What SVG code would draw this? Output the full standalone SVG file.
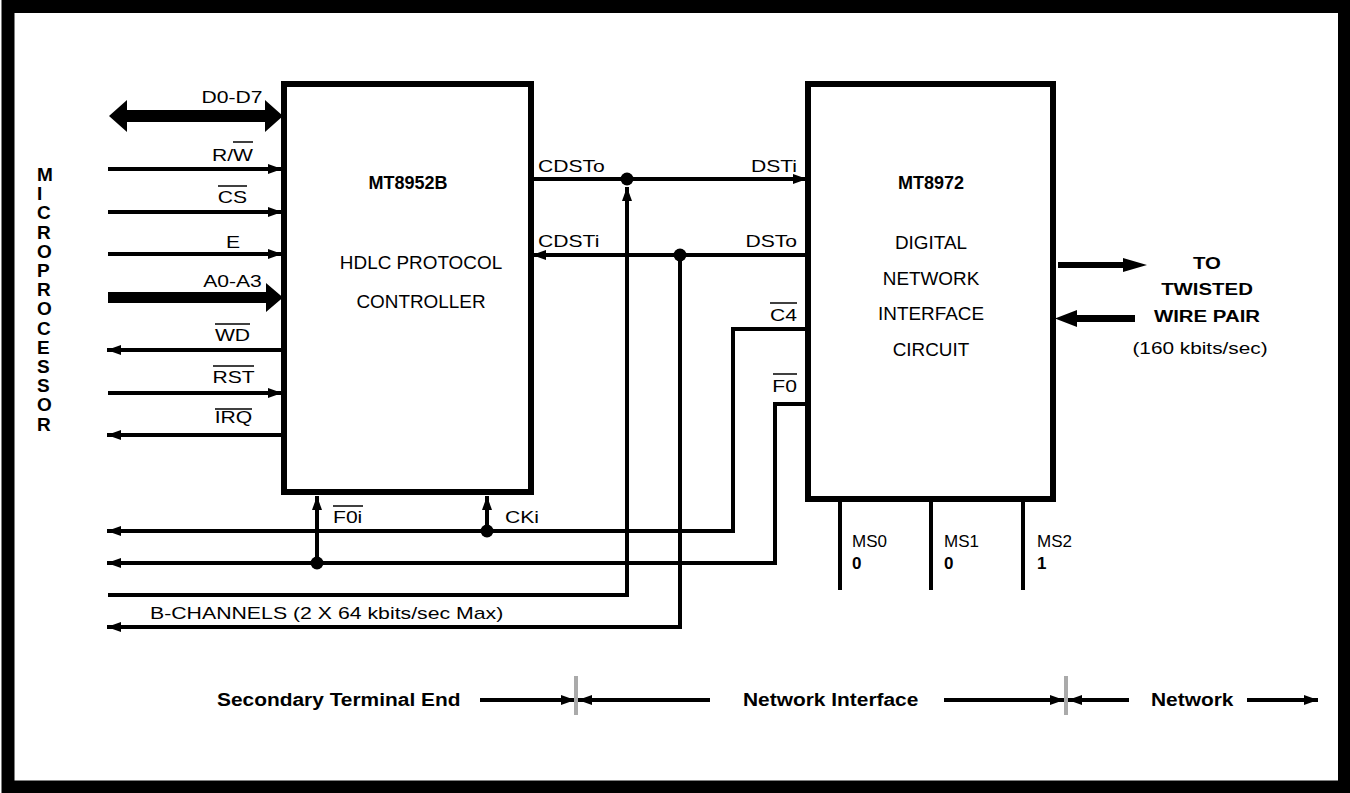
<svg xmlns="http://www.w3.org/2000/svg" width="1350" height="793" viewBox="0 0 1350 793">
<style>
.t{font-family:"Liberation Sans",Arial,Helvetica,sans-serif;font-size:16px;fill:#000}
.ms{font-family:"Liberation Sans",Arial,Helvetica,sans-serif;font-size:17px;fill:#000}
.bx{font-family:"Liberation Sans",Arial,Helvetica,sans-serif;font-size:18px;fill:#000}
.b{font-family:"Liberation Sans",Arial,Helvetica,sans-serif;font-size:17px;font-weight:bold;fill:#000}
.bt{font-family:"Liberation Sans",Arial,Helvetica,sans-serif;font-size:18px;font-weight:bold;fill:#000}
.lg{font-family:"Liberation Sans",Arial,Helvetica,sans-serif;font-size:19px;font-weight:bold;fill:#000}
.mp{font-family:"Liberation Sans",Arial,Helvetica,sans-serif;font-size:19px;font-weight:bold;fill:#000}
.m{text-anchor:middle}
.e{text-anchor:end}
.box{fill:#fff;stroke:#000;stroke-width:6}
.w{fill:none;stroke:#000;stroke-width:4}
.ov{stroke:#000;stroke-width:1.5}
.tick{stroke:#aaa;stroke-width:4}
</style>
<defs>
<marker id="ah" markerUnits="userSpaceOnUse" markerWidth="15" markerHeight="11" refX="14" refY="5" orient="auto">
<path d="M0,0 L14,5 L0,10 z" fill="#000"/>
</marker>
</defs>
<rect x="0" y="0" width="1350" height="793" fill="#fff"/>
<rect x="8" y="6.5" width="1336.5" height="780.5" fill="none" stroke="#000" stroke-width="13"/>

<g id="microprocessor">
<text class="mp" x="37" y="181">M</text>
<text class="mp" x="37" y="200.2">I</text>
<text class="mp" x="37" y="219.4">C</text>
<text class="mp" x="37" y="238.6">R</text>
<text class="mp" x="37" y="257.8">O</text>
<text class="mp" x="37" y="277">P</text>
<text class="mp" x="37" y="296.2">R</text>
<text class="mp" x="37" y="315.4">O</text>
<text class="mp" x="37" y="334.6">C</text>
<text class="mp" x="37" y="353.8">E</text>
<text class="mp" x="37" y="373">S</text>
<text class="mp" x="37" y="392.2">S</text>
<text class="mp" x="37" y="411.4">O</text>
<text class="mp" x="37" y="430.6">R</text>
</g>

<g id="mt8952b">
<rect class="box" x="284" y="84" width="247" height="408"/>
<text class="bt m" x="408" y="189">MT8952B</text>
<text class="bx m" transform="translate(421 269) scale(1.05 1)">HDLC PROTOCOL</text>
<text class="bx m" transform="translate(421 308) scale(1.05 1)">CONTROLLER</text>
</g>

<g id="mt8972">
<rect class="box" x="808" y="84" width="245" height="415"/>
<text class="bt m" x="931" y="189">MT8972</text>
<text class="bx m" transform="translate(931 249) scale(1.05 1)">DIGITAL</text>
<text class="bx m" transform="translate(931 285) scale(1.05 1)">NETWORK</text>
<text class="bx m" transform="translate(931 320) scale(1.05 1)">INTERFACE</text>
<text class="bx m" transform="translate(931 356) scale(1.05 1)">CIRCUIT</text>
</g>

<g id="twisted-pair">
<text class="b m" transform="translate(1207 269) scale(1.2 1)">TO</text>
<text class="b m" transform="translate(1207 295) scale(1.2 1)">TWISTED</text>
<text class="b m" transform="translate(1207 322) scale(1.2 1)">WIRE PAIR</text>
<text class="t m" transform="translate(1200 354) scale(1.3 1)">(160 kbits/sec)</text>
</g>

<g id="connectors">
<polygon points="109,116 127,100 127,110 265,110 265,100 283,116 265,132 265,122 127,122 127,132" fill="#000"/>
<line class="w" x1="108" y1="169" x2="282" y2="169" marker-end="url(#ah)"/>
<line class="w" x1="108" y1="212" x2="282" y2="212" marker-end="url(#ah)"/>
<line class="w" x1="108" y1="254" x2="282" y2="254" marker-end="url(#ah)"/>
<polygon points="108,292 266,292 266,283 283,297.5 266,312 266,303 108,303" fill="#000"/>
<line class="w" x1="282" y1="350" x2="107" y2="350" marker-end="url(#ah)"/>
<line class="w" x1="108" y1="393" x2="282" y2="393" marker-end="url(#ah)"/>
<line class="w" x1="282" y1="435" x2="107" y2="435" marker-end="url(#ah)"/>

<line class="w" x1="531" y1="179" x2="807" y2="179" marker-end="url(#ah)"/>
<line class="w" x1="808" y1="255" x2="532" y2="255" marker-end="url(#ah)"/>
<polyline class="w" points="108,595 627,595 627,187" marker-end="url(#ah)"/>
<polyline class="w" points="680,255 680,627 107,627" marker-end="url(#ah)"/>
<polyline class="w" points="808,329 733,329 733,531 107,531" marker-end="url(#ah)"/>
<polyline class="w" points="808,404 775,404 775,563 107,563" marker-end="url(#ah)"/>
<line class="w" x1="317" y1="563" x2="317" y2="496" marker-end="url(#ah)"/>
<line class="w" x1="487" y1="531" x2="487" y2="496" marker-end="url(#ah)"/>
<circle cx="627" cy="179" r="6.5"/>
<circle cx="680" cy="255" r="6.5"/>
<circle cx="487" cy="531" r="6.5"/>
<circle cx="317" cy="563" r="6.5"/>

<polygon points="1058,262 1123,262 1123,258 1147,265 1123,272 1123,268 1058,268" fill="#000"/>
<polygon points="1055,318.5 1077,310 1077,315 1135,315 1135,322 1077,322 1077,327" fill="#000"/>

<line class="w" x1="840" y1="499" x2="840" y2="590"/>
<line class="w" x1="931" y1="499" x2="931" y2="590"/>
<line class="w" x1="1023" y1="499" x2="1023" y2="590"/>

<line class="w" x1="480" y1="700" x2="575" y2="700" marker-end="url(#ah)"/>
<line class="w" x1="710" y1="700" x2="578" y2="700" marker-end="url(#ah)"/>
<line class="w" x1="944" y1="700" x2="1064" y2="700" marker-end="url(#ah)"/>
<line class="w" x1="1129" y1="700" x2="1068" y2="700" marker-end="url(#ah)"/>
<line class="w" x1="1247" y1="700" x2="1318" y2="700" marker-end="url(#ah)"/>
<line class="tick" x1="576" y1="676" x2="576" y2="715"/>
<line class="tick" x1="1066" y1="676" x2="1066" y2="715"/>
</g>

<g id="labels">
<text class="t m" transform="translate(232 103) scale(1.32 1)">D0-D7</text>
<text class="t m" transform="translate(232.5 161) scale(1.32 1)">R/W</text>
<line class="ov" x1="233" y1="142" x2="253" y2="142"/>
<text class="t m" transform="translate(232.5 203) scale(1.32 1)">CS</text>
<line class="ov" x1="218" y1="186" x2="247" y2="186"/>
<text class="t m" transform="translate(233 248) scale(1.32 1)">E</text>
<text class="t m" transform="translate(232.5 287) scale(1.32 1)">A0-A3</text>
<text class="t m" transform="translate(232.5 341) scale(1.32 1)">WD</text>
<line class="ov" x1="215" y1="324" x2="250" y2="324"/>
<text class="t m" transform="translate(233.5 383) scale(1.32 1)">RST</text>
<line class="ov" x1="213" y1="366" x2="254" y2="366"/>
<text class="t m" transform="translate(233.5 423) scale(1.32 1)">IRQ</text>
<line class="ov" x1="215" y1="409" x2="252" y2="409"/>

<text class="t" transform="translate(538 172) scale(1.32 1)">CDSTo</text>
<text class="t" transform="translate(538 247) scale(1.32 1)">CDSTi</text>
<text class="t e" transform="translate(797 172) scale(1.32 1)">DSTi</text>
<text class="t e" transform="translate(797 247) scale(1.32 1)">DSTo</text>
<text class="t e" transform="translate(797 321) scale(1.32 1)">C4</text>
<line class="ov" x1="770" y1="303" x2="797" y2="303"/>
<text class="t e" transform="translate(797 392) scale(1.32 1)">F0</text>
<line class="ov" x1="773" y1="374" x2="797" y2="374"/>
<text class="t" transform="translate(333 523) scale(1.32 1)">F0i</text>
<line class="ov" x1="333" y1="506" x2="363" y2="506"/>
<text class="t" transform="translate(505 523) scale(1.32 1)">CKi</text>
<text class="t" transform="translate(150 619) scale(1.33 1)">B-CHANNELS (2 X 64 kbits/sec Max)</text>

<text class="ms" x="852" y="547">MS0</text>
<text class="b" x="852" y="569">0</text>
<text class="ms" x="944" y="547">MS1</text>
<text class="b" x="944" y="569">0</text>
<text class="ms" x="1037" y="547">MS2</text>
<text class="b" x="1037" y="569">1</text>

<text class="lg" transform="translate(217 706) scale(1.1 1)">Secondary Terminal End</text>
<text class="lg" transform="translate(743 706) scale(1.1 1)">Network Interface</text>
<text class="lg" transform="translate(1151 706) scale(1.1 1)">Network</text>
</g>
</svg>
